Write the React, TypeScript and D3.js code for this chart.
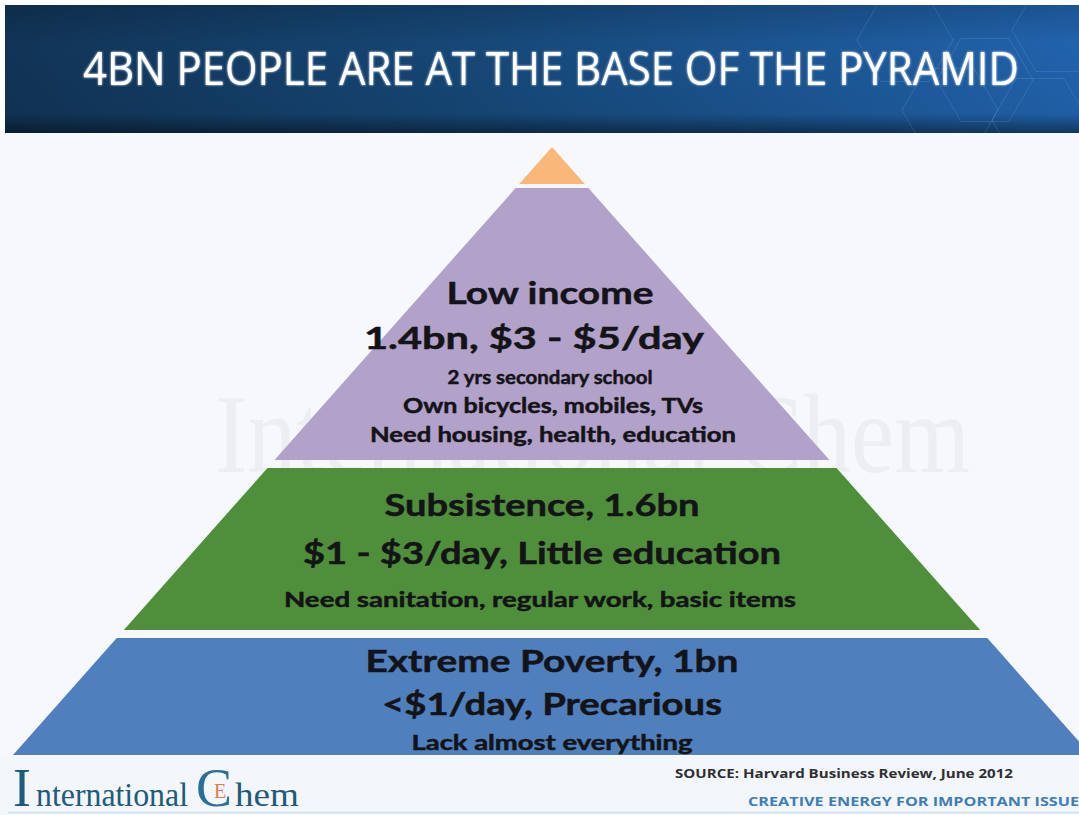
import React from 'react';
import * as d3 from 'd3';

// slide text
const title = '4BN PEOPLE ARE AT THE BASE OF THE PYRAMID';
const sourceNote = 'SOURCE: Harvard Business Review, June 2012';
const tagline = 'CREATIVE ENERGY FOR IMPORTANT ISSUES';

// pyramid tiers, top to bottom
const tierNames = ['Top', 'Low income', 'Subsistence', 'Extreme Poverty'];
const tierShare = [39, 278, 170, 121]; // drawn height of each tier on the slide
const tierColors = ['#f9b77a', '#b2a1c8', '#4f8f3b', '#4f7fbc'];
const tierLines = [
  [],
  ['Low income', '1.4bn, $3 - $5/day', '2 yrs secondary school', 'Own bicycles, mobiles, TVs', 'Need housing, health, education'],
  ['Subsistence, 1.6bn', '$1 - $3/day, Little education', 'Need sanitation, regular work, basic items'],
  ['Extreme Poverty, 1bn', '<$1/day, Precarious', 'Lack almost everything'],
];

// text layout per line: [baseline, width, centre, size]
const lineLayout = [
  [],
  [[304, 207, 550, 31], [349, 340, 534, 31], [384, 205, 550, 19], [413, 300, 553, 21], [442, 366, 553, 21]],
  [[516, 315, 542, 31], [564, 478, 542, 31], [607, 512, 540, 21]],
  [[672, 373, 552, 31], [715, 340, 552, 31], [750, 281, 552, 21]],
];

const W = 1079;
const H = 815;
const apexY = 147;
const baseY = 755;
const cx = 552;

const App = () => {
  const total = d3.sum(tierShare);
  const cum = [0, ...d3.cumsum(tierShare)];
  const y = d3.scaleLinear().domain([0, total]).range([apexY, baseY]);
  const halfW = d3.scaleLinear().domain([apexY, baseY]).range([0, 539]);
  const line = d3.line<[number, number]>();

  const gaps = [2, 2, 4, 4];
  const tiers = tierNames.map((name, i) => {
    const y0 = y(cum[i]) + (i === 0 ? 0 : gaps[i]);
    const y1 = y(cum[i + 1]) - (i === tierNames.length - 1 ? 0 : gaps[i + 1]);
    const pts: [number, number][] = [
      [cx - halfW(y0), y0],
      [cx + halfW(y0), y0],
      [cx + halfW(y1), y1],
      [cx - halfW(y1), y1],
    ];
    return { name, d: line(pts) + 'Z', color: tierColors[i], lines: tierLines[i], layout: lineLayout[i] };
  });

  const hexes = [[905, 40], [985, 80], [1060, 30], [950, 110], [1040, 120]];
  const hexPath = (x: number, yy: number, r: number) =>
    line(d3.range(7).map((k) => [x + r * Math.cos((Math.PI / 3) * k), yy + r * Math.sin((Math.PI / 3) * k)] as [number, number]));

  return (
    <div style={{ position: 'absolute', left: 0, top: 0 }}>
      <svg width={W} height={H} style={{ display: 'block' }}>
        <defs>
          <linearGradient id="hdr" x1="0" x2="1" y1="0" y2="0">
            <stop offset="0" stopColor="#113456" />
            <stop offset="0.45" stopColor="#164878" />
            <stop offset="1" stopColor="#2163ad" />
          </linearGradient>
          <linearGradient id="hdrShade" x1="0" x2="0" y1="0" y2="1">
            <stop offset="0" stopColor="#000" stopOpacity="0.15" />
            <stop offset="0.3" stopColor="#000" stopOpacity="0" />
            <stop offset="0.85" stopColor="#000" stopOpacity="0.05" />
            <stop offset="1" stopColor="#000" stopOpacity="0.45" />
          </linearGradient>
          <clipPath id="hdrClip">
            <rect x={5} y={5} width={W - 5} height={128} />
          </clipPath>
          <filter id="glow" x="-5%" y="-20%" width="110%" height="140%">
            <feGaussianBlur stdDeviation="1.2" result="b" />
            <feMerge>
              <feMergeNode in="b" />
              <feMergeNode in="SourceGraphic" />
            </feMerge>
          </filter>
        </defs>

        <rect width={W} height={H} fill="#ffffff" />
        <rect x={0} y={133} width={W} height={H - 133} fill="#f6f8fc" />

        {/* header */}
        <rect x={5} y={5} width={W - 5} height={128} fill="url(#hdr)" />
        <rect x={5} y={5} width={W - 5} height={128} fill="url(#hdrShade)" />
        <g clipPath="url(#hdrClip)" fill="none" stroke="#7fb0e0" strokeOpacity={0.22} strokeWidth={1}>
          {hexes.map(([hx, hy], i) => (
            <path key={i} d={hexPath(hx, hy, 48) ?? ''} />
          ))}
        </g>
        <text
          x={551}
          y={85}
          textAnchor="middle"
          fontFamily="'Open Sans', sans-serif"
          fontSize={45}
          fill="#ffffff"
          textLength={936}
          lengthAdjust="spacingAndGlyphs"
          filter="url(#glow)"
        >
          {title}
        </text>

        {/* watermark */}
        <text
          x={215}
          y={472}
          fontFamily="'Liberation Serif', 'Times New Roman', serif"
          fontSize={112}
          fill="#eceef3"
          textLength={755}
          lengthAdjust="spacingAndGlyphs"
        >
          International Chem
        </text>

        {/* pyramid */}
        {tiers.map((t) => (
          <g key={t.name}>
            <path d={t.d} fill={t.color} />
            {t.lines.map((txt, j) => {
              const [by, tw, tx, fs] = t.layout[j];
              return (
                <text
                  key={j}
                  x={tx}
                  y={by}
                  textAnchor="middle"
                  fontFamily="Lato, 'Open Sans', sans-serif"
                  fontWeight={700}
                  fontSize={fs}
                  fill="#141418"
                  stroke="#141418"
                  strokeWidth={0.5}
                  textLength={tw}
                  lengthAdjust="spacingAndGlyphs"
                >
                  {txt}
                </text>
              );
            })}
          </g>
        ))}

        {/* footer */}
        <rect x={0} y={756} width={W} height={H - 756} fill="#f3f6fb" />
        <line x1={8} x2={W} y1={812.5} y2={812.5} stroke="#cfe0f1" strokeWidth={1.5} />
        <g fontFamily="'Liberation Serif', 'Times New Roman', serif" fill="#1f5b7b">
          <text x={13} y={806} fontSize={54}>I</text>
          <text x={36} y={806} fontSize={33} textLength={152} lengthAdjust="spacingAndGlyphs">nternational</text>
          <text x={196} y={806} fontSize={54} fill="#2a6f95">C</text>
          <text x={214} y={798} fontSize={20} fill="#e57a4e">E</text>
          <text x={235} y={806} fontSize={33} textLength={64} lengthAdjust="spacingAndGlyphs">hem</text>
        </g>
        <text
          x={675}
          y={778}
          fontFamily="'Open Sans', sans-serif"
          fontWeight={700}
          fontSize={12.5}
          fill="#2f2f33"
          textLength={338}
          lengthAdjust="spacingAndGlyphs"
        >
          {sourceNote}
        </text>
        <text
          x={748}
          y={806}
          fontFamily="'Open Sans', sans-serif"
          fontWeight={700}
          fontSize={12.5}
          fill="#3f7db6"
          textLength={340}
          lengthAdjust="spacingAndGlyphs"
        >
          {tagline}
        </text>
      </svg>
    </div>
  );
};

export default App;
